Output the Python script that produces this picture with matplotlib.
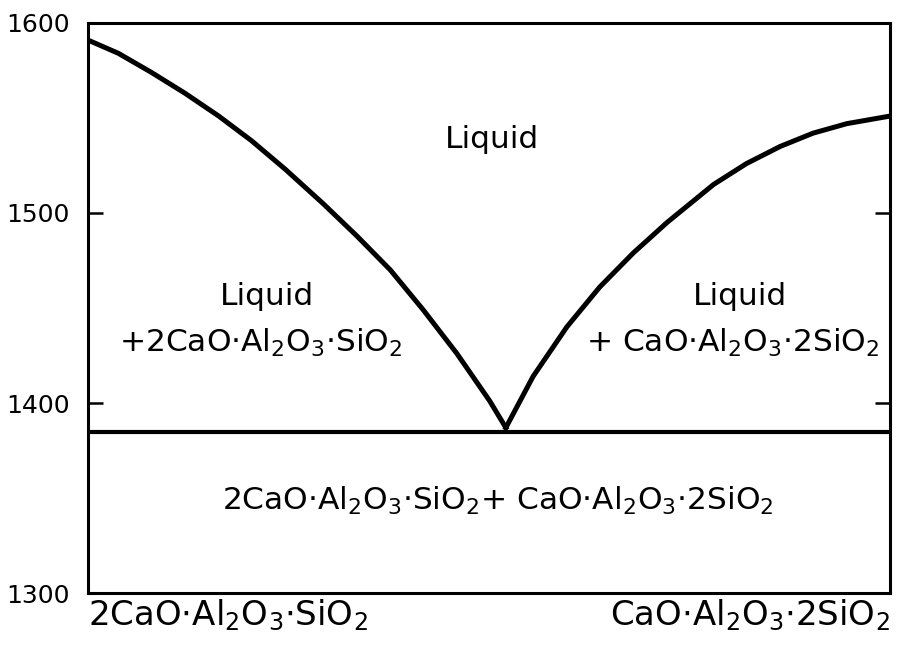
import matplotlib
matplotlib.use("Agg")
import matplotlib.pyplot as plt

# Liquidus branches (fraction of CaO·Al2O3·2SiO2, temperature in °C)
left_x = [0.0, 0.038, 0.079, 0.121, 0.163, 0.204, 0.246, 0.293,
          0.335, 0.377, 0.418, 0.460, 0.501, 0.521]
left_T = [1591, 1584, 1574, 1563, 1551, 1538, 1523, 1505,
          1488, 1470, 1449, 1426, 1401, 1387]
right_x = [0.521, 0.555, 0.597, 0.638, 0.680, 0.722, 0.751, 0.780,
           0.821, 0.863, 0.904, 0.946, 1.0]
right_T = [1387, 1414, 1440, 1461, 1479, 1495, 1505, 1515,
           1526, 1535, 1542, 1547, 1551]
eutectic_T = 1385

y_ticks = [1300, 1400, 1500, 1600]
y_tick_labels = ["1300", "1400", "1500", "1600"]

end_left = r"2CaO$\cdot$Al$_2$O$_3$$\cdot$SiO$_2$"
end_right = r"CaO$\cdot$Al$_2$O$_3$$\cdot$2SiO$_2$"

plt.rcParams["font.family"] = ["DejaVu Sans"]
plt.rcParams["mathtext.fontset"] = "dejavusans"
plt.rcParams["mathtext.default"] = "regular"

fig = plt.figure(figsize=(9.08, 6.56), dpi=100)
ax = fig.add_axes([0.0969, 0.096, 0.8833, 0.869])

ax.plot(left_x, left_T, color="black", lw=3.6, solid_joinstyle="round")
ax.plot(right_x, right_T, color="black", lw=3.6, solid_joinstyle="round")
ax.plot([0, 1], [eutectic_T, eutectic_T], color="black", lw=3.0)

ax.set_xlim(0, 1)
ax.set_ylim(1300, 1600)
for s in ax.spines.values():
    s.set_linewidth(2.2)

ax.set_xticks([])
ax.set_yticks(y_ticks)
ax.set_yticklabels(y_tick_labels, fontsize=18)
ax.tick_params(axis="y", direction="in", length=11, width=1.8,
               left=True, right=True, pad=13)
# inward tick marks only at the interior temperatures
for t in ax.yaxis.get_major_ticks():
    if t.get_loc() in (1300, 1600):
        t.tick1line.set_visible(False)
        t.tick2line.set_visible(False)

fs = 22.5
ax.text(0.504, 1534, "Liquid", ha="center", va="baseline", fontsize=fs)
ax.text(0.223, 1451.5, "Liquid", ha="center", va="baseline", fontsize=fs)
ax.text(0.216, 1427, "+" + end_left, ha="center", va="baseline", fontsize=fs)
ax.text(0.813, 1451.5, "Liquid", ha="center", va="baseline", fontsize=fs)
ax.text(0.804, 1427, "+ " + end_right, ha="center", va="baseline", fontsize=fs)
ax.text(0.511, 1344, end_left + "+ " + end_right, ha="center", va="baseline",
        fontsize=fs)

ax.text(0.0, -0.056, end_left, transform=ax.transAxes, ha="left",
        va="baseline", fontsize=24.5)
ax.text(1.0, -0.056, end_right, transform=ax.transAxes, ha="right",
        va="baseline", fontsize=24.5)

fig.savefig("out.png", dpi=100)
